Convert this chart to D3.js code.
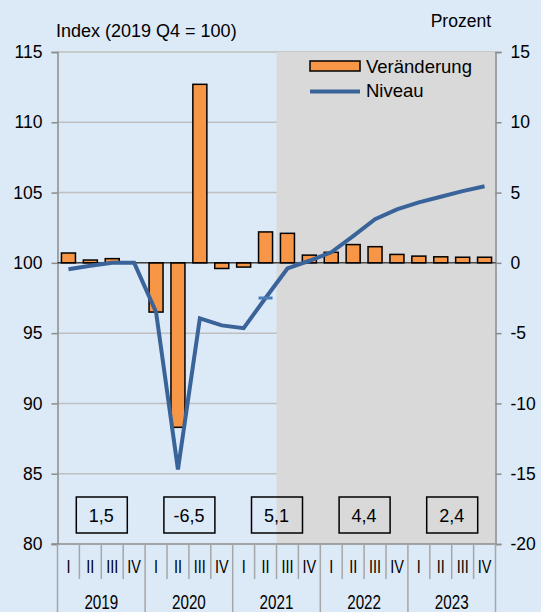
<!DOCTYPE html>
<html>
<head>
<meta charset="utf-8">
<script src="https://cdn.jsdelivr.net/npm/d3@7"></script>
<style>
  html, body { margin: 0; padding: 0; background: #dce9f7; }
  svg { display: block; font-family: "Liberation Sans", Arial, sans-serif; }
</style>
</head>
<body>
<div id="chart"></div>
<script>
// ---- data ----
const years = ["2019", "2020", "2021", "2022", "2023"];
const quarterNames = ["I", "II", "III", "IV"];
// quarterly change (percent, right axis)
const changeValues = [0.7, 0.2, 0.3, 0.0, -3.5, -11.7, 12.7, -0.4, -0.3, 2.2, 2.1, 0.55, 0.75, 1.3, 1.15, 0.6, 0.48, 0.43, 0.4, 0.4];
// level (index 2019 Q4 = 100, left axis)
const levelValues = [99.55, 99.8, 100.0, 100.0, 96.5, 85.3, 96.05, 95.55, 95.35, 97.5, 99.6, 100.15, 100.75, 101.9, 103.1, 103.8, 104.3, 104.7, 105.1, 105.45];
const annualGrowth = ["1,5", "-6,5", "5,1", "4,4", "2,4"];
const leftTicks = [80, 85, 90, 95, 100, 105, 110, 115];
const rightTicks = [-20, -15, -10, -5, 0, 5, 10, 15];
const forecastStart = "2021-III";
const markedQuarter = "2021-II";

const quarters = [];
years.forEach(y => quarterNames.forEach(q => quarters.push(`${y}-${q}`)));

// ---- layout ----
const W = 541, H = 612;
const plotLeft = 57.5, plotRight = 495.5, plotTop = 52, plotBottom = 544;

const svg = d3.select("#chart").append("svg").attr("width", W).attr("height", H);

svg.append("rect").attr("width", W).attr("height", H).attr("fill", "#dce9f7");

const x = d3.scaleBand().domain(quarters).range([plotLeft, plotRight]);
const xYear = d3.scaleBand().domain(years).range([plotLeft, plotRight]);
const yL = d3.scaleLinear().domain([80, 115]).range([plotBottom, plotTop]);
const yR = d3.scaleLinear().domain([-20, 15]).range([plotBottom, plotTop]);

// gridlines
svg.append("g")
  .selectAll("line")
  .data(leftTicks.filter(d => d !== 80))
  .join("line")
  .attr("x1", plotLeft).attr("x2", plotRight)
  .attr("y1", d => yL(d)).attr("y2", d => yL(d))
  .attr("stroke", "#bfbfbf").attr("stroke-width", 1.5);

// forecast shading
svg.append("rect")
  .attr("x", x(forecastStart))
  .attr("y", plotTop)
  .attr("width", plotRight - x(forecastStart))
  .attr("height", plotBottom - plotTop)
  .attr("fill", "#d9d9d9");

// left axis
const axL = svg.append("g")
  .attr("transform", `translate(${plotLeft},0)`)
  .call(d3.axisLeft(yL).tickValues(leftTicks).tickSize(6).tickPadding(9));
axL.select(".domain").attr("stroke", "#8c8c8c").attr("stroke-width", 1.5);
axL.selectAll(".tick line").attr("stroke", "#8c8c8c").attr("stroke-width", 1.5);
axL.selectAll(".tick text").attr("font-size", 17.5).attr("fill", "#000")
  .attr("font-family", "Liberation Sans, Arial, sans-serif");

// right axis
const axR = svg.append("g")
  .attr("transform", `translate(${plotRight},0)`)
  .call(d3.axisRight(yR).tickValues(rightTicks).tickSize(6).tickPadding(9).tickFormat(d3.format("d")));
axR.select(".domain").attr("stroke", "#8c8c8c").attr("stroke-width", 1.5);
axR.selectAll(".tick line").attr("stroke", "#8c8c8c").attr("stroke-width", 1.5);
axR.selectAll(".tick text").attr("font-size", 17.5).attr("fill", "#000")
  .attr("font-family", "Liberation Sans, Arial, sans-serif")
  .text(d => d < 0 ? "-" + Math.abs(d) : d);

// bottom axis line
svg.append("line")
  .attr("x1", plotLeft - 6).attr("x2", plotRight)
  .attr("y1", plotBottom).attr("y2", plotBottom)
  .attr("stroke", "#8c8c8c").attr("stroke-width", 1.5);

// quarter separators and labels
svg.append("g")
  .selectAll("line")
  .data(quarters.filter((d, i) => i % 4 !== 0))
  .join("line")
  .attr("x1", d => x(d)).attr("x2", d => x(d))
  .attr("y1", plotBottom).attr("y2", 579)
  .attr("stroke", "#a6a6a6").attr("stroke-width", 1.5);

svg.append("g")
  .selectAll("line")
  .data(years.concat(["end"]))
  .join("line")
  .attr("x1", d => d === "end" ? plotRight : xYear(d))
  .attr("x2", d => d === "end" ? plotRight : xYear(d))
  .attr("y1", plotBottom).attr("y2", H)
  .attr("stroke", "#a6a6a6").attr("stroke-width", 1.5);

// narrow category labels (condensed like the original)
svg.append("g")
  .selectAll("text")
  .data(quarters)
  .join("text")
  .attr("transform", d => `translate(${x(d) + x.bandwidth() / 2},573) scale(0.78,1)`)
  .attr("text-anchor", "middle")
  .attr("font-size", 18.5)
  .text(d => d.split("-")[1]);

svg.append("g")
  .selectAll("text")
  .data(years)
  .join("text")
  .attr("transform", d => `translate(${xYear(d) + xYear.bandwidth() / 2},609) scale(0.78,1)`)
  .attr("text-anchor", "middle")
  .attr("font-size", 19.5)
  .text(d => d);

// bars
const barW = 14;
svg.append("g")
  .selectAll("rect")
  .data(changeValues.map((v, i) => ({ q: quarters[i], v })).filter(d => d.v !== 0))
  .join("rect")
  .attr("x", d => x(d.q) + (x.bandwidth() - barW) / 2)
  .attr("y", d => yR(Math.max(0, d.v)))
  .attr("width", barW)
  .attr("height", d => Math.abs(yR(d.v) - yR(0)))
  .attr("fill", "#f79646")
  .attr("stroke", "#000")
  .attr("stroke-width", 1.5);

// zero line
svg.append("line")
  .attr("x1", plotLeft).attr("x2", plotRight)
  .attr("y1", yR(0)).attr("y2", yR(0))
  .attr("stroke", "#000").attr("stroke-width", 1);

// level line
const line = d3.line()
  .x((d, i) => x(quarters[i]) + x.bandwidth() / 2)
  .y(d => yL(d));

svg.append("path")
  .datum(levelValues)
  .attr("fill", "none")
  .attr("stroke", "#3a6499")
  .attr("stroke-width", 4)
  .attr("stroke-linejoin", "miter")
  .attr("d", line);

// marker dash at 2021 Q2
const mi = quarters.indexOf(markedQuarter);
svg.append("line")
  .attr("x1", x(markedQuarter) + x.bandwidth() / 2 - 7)
  .attr("x2", x(markedQuarter) + x.bandwidth() / 2 + 7)
  .attr("y1", yL(levelValues[mi]))
  .attr("y2", yL(levelValues[mi]))
  .attr("stroke", "#4a7ebb")
  .attr("stroke-width", 3);

// annual growth boxes
const boxes = svg.append("g")
  .selectAll("g")
  .data(years.map((y, i) => ({ y, t: annualGrowth[i] })))
  .join("g")
  .attr("transform", d => `translate(${xYear(d.y) + xYear.bandwidth() / 2},515)`);

boxes.append("rect")
  .attr("x", -25).attr("y", -18)
  .attr("width", 51).attr("height", 36)
  .attr("fill", "none")
  .attr("stroke", "#000")
  .attr("stroke-width", 1.5);

boxes.append("text")
  .attr("y", 7)
  .attr("text-anchor", "middle")
  .attr("font-size", 18)
  .text(d => d.t);

// axis titles
svg.append("text")
  .attr("x", 56).attr("y", 37)
  .attr("font-size", 18)
  .text("Index (2019 Q4 = 100)");

svg.append("text")
  .attr("x", 491).attr("y", 27)
  .attr("text-anchor", "end")
  .attr("font-size", 17.5)
  .text("Prozent");

// legend
const lg = svg.append("g").attr("transform", "translate(310,66)");
lg.append("rect")
  .attr("x", 0).attr("y", -5)
  .attr("width", 50).attr("height", 10)
  .attr("fill", "#f79646")
  .attr("stroke", "#000")
  .attr("stroke-width", 1.5);
lg.append("text")
  .attr("x", 56).attr("y", 6.5)
  .attr("font-size", 18.5)
  .text("Veränderung");
lg.append("line")
  .attr("x1", 0).attr("x2", 50)
  .attr("y1", 25.5).attr("y2", 25.5)
  .attr("stroke", "#3a6499")
  .attr("stroke-width", 4);
lg.append("text")
  .attr("x", 56).attr("y", 31)
  .attr("font-size", 18.5)
  .text("Niveau");
</script>
</body>
</html>
